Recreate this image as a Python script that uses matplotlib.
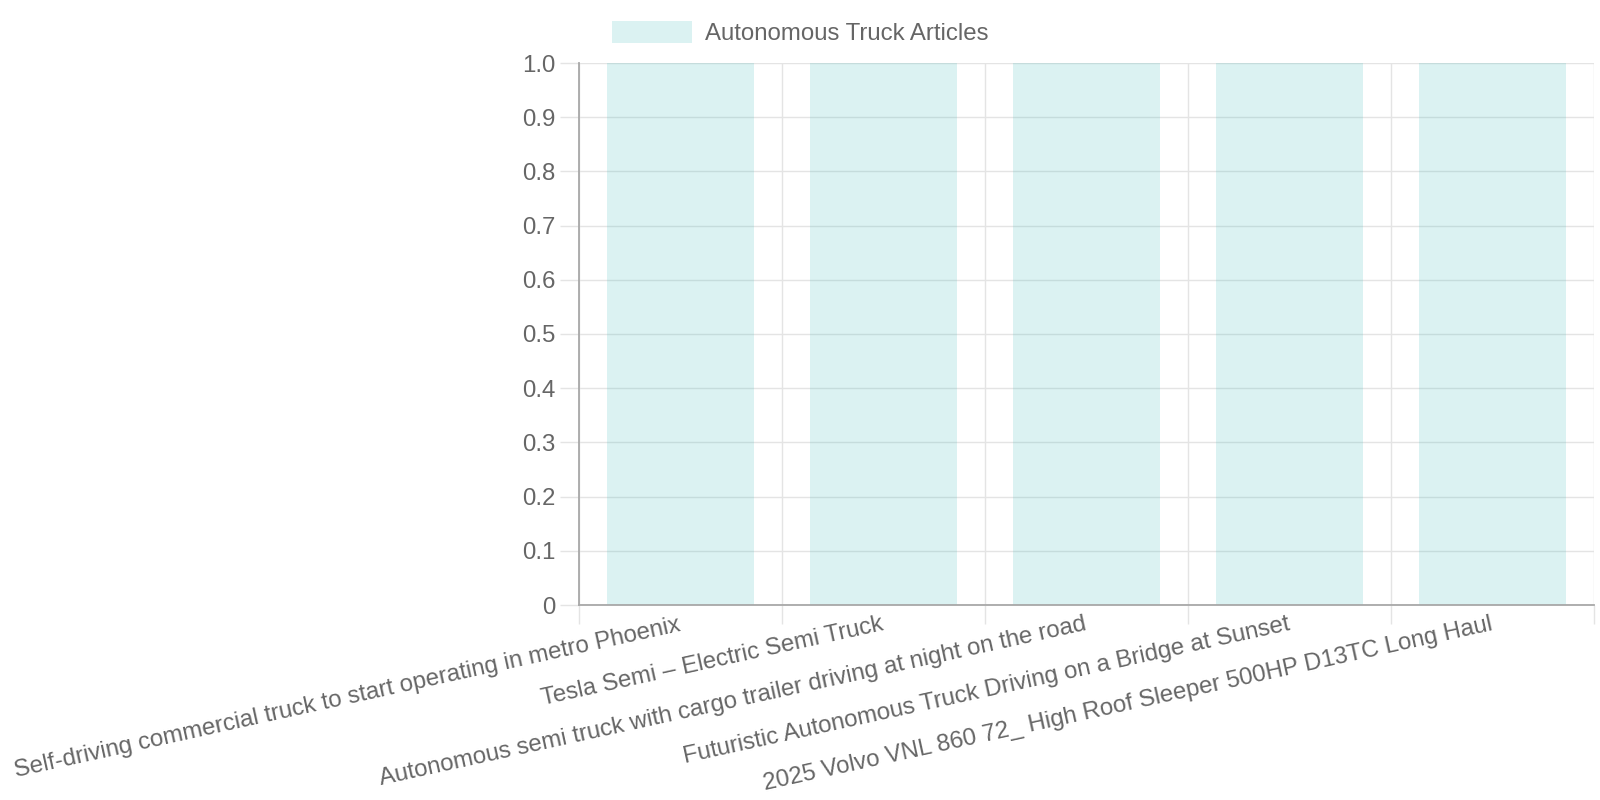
import numpy as np
import matplotlib
matplotlib.use("Agg")
import matplotlib.pyplot as plt
from matplotlib.patches import Patch

plt.rcParams['font.family'] = ['Liberation Sans', 'DejaVu Sans']

categories = [
    "Self-driving commercial truck to start operating in metro Phoenix",
    "Tesla Semi – Electric Semi Truck",
    "Autonomous semi truck with cargo trailer driving at night on the road",
    "Futuristic Autonomous Truck Driving on a Bridge at Sunset",
    "2025 Volvo VNL 860 72_ High Roof Sleeper 500HP D13TC Long Haul",
]
values = [1, 1, 1, 1, 1]
series_name = "Autonomous Truck Articles"
y_ticks = [0, 0.1, 0.2, 0.3, 0.4, 0.5, 0.6, 0.7, 0.8, 0.9, 1.0]
y_tick_labels = ["0", "0.1", "0.2", "0.3", "0.4", "0.5", "0.6", "0.7", "0.8", "0.9", "1.0"]

TEXT = "#666666"
GRID = "#e4e4e4"
AXIS = "#a8a8a8"
BAR = (75/255, 192/255, 190/255, 0.2)
FS = 17.3

W, H = 1600, 800
fig = plt.figure(figsize=(16, 8), dpi=100)
left, right, top, bottom = 579, 1594, 63, 605
ax = fig.add_axes([left / W, 1 - bottom / H, (right - left) / W, (bottom - top) / H])

x = np.arange(len(categories))
ax.bar(x, values, width=0.72, color=BAR, linewidth=0, zorder=2)

ax.set_xlim(-0.5, len(categories) - 0.5)
ax.set_ylim(0, 1)

# y axis
ax.set_yticks(y_ticks)
ax.set_yticklabels(y_tick_labels)
ax.tick_params(axis='y', which='major', length=14, width=1, color=GRID,
               labelsize=FS, labelcolor=TEXT, pad=3)
ax.yaxis.grid(True, color=GRID, linewidth=1, zorder=0)

# x axis: labels at centers, grid/ticks at boundaries
ax.set_xticks(x)
ax.set_xticklabels(categories, rotation=12.4, ha='right', va='center',
                   rotation_mode='anchor')
ax.tick_params(axis='x', which='major', length=0, labelsize=FS,
               labelcolor=TEXT, pad=14)
ax.set_xticks(np.arange(-0.5, len(categories), 1.0), minor=True)
ax.tick_params(axis='x', which='minor', length=14, width=1, color=GRID)
ax.xaxis.grid(True, which='minor', color=GRID, linewidth=1, zorder=0)
ax.xaxis.grid(False, which='major')
ax.set_axisbelow(True)

for s in ['top', 'right']:
    ax.spines[s].set_visible(False)
for s in ['left', 'bottom']:
    ax.spines[s].set_color(AXIS)
    ax.spines[s].set_linewidth(1.3)

fig.legend(handles=[Patch(facecolor=BAR, edgecolor='none', label=series_name)],
           loc='center', bbox_to_anchor=(0.5, 1 - 33 / H), frameon=False,
           fontsize=FS, labelcolor=TEXT, handlelength=3.35, handleheight=1.0,
           handletextpad=0.5)

fig.savefig("out.png", dpi=100, facecolor='white')
